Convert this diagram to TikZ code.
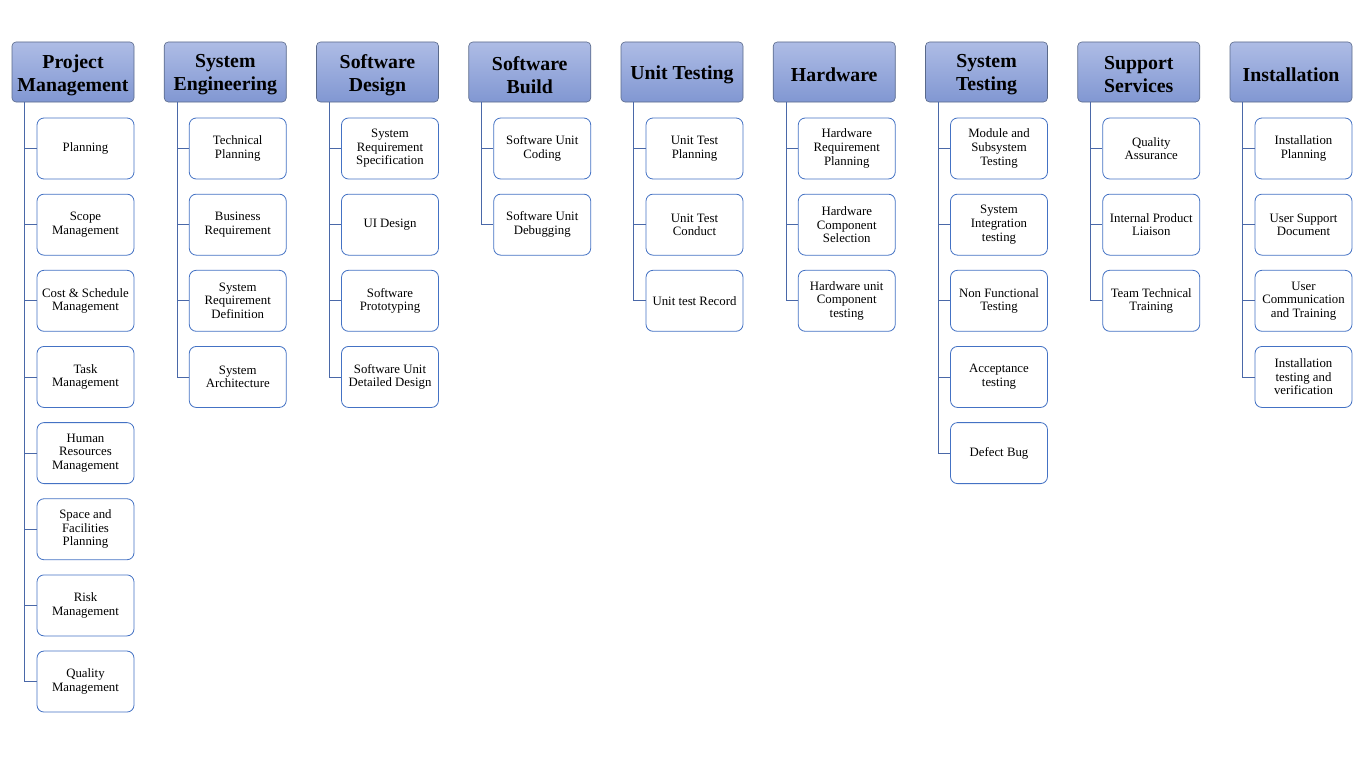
\documentclass[tikz,border=0pt]{standalone}
\usepackage{fontspec}
\setmainfont{Liberation Serif}
\definecolor{headtop}{HTML}{AEBCE5}
\definecolor{headbot}{HTML}{8197D2}
\definecolor{headline}{HTML}{59698A}
\definecolor{taskline}{HTML}{4472C4}
\definecolor{linkline}{HTML}{4A68A8}

\begin{document}
\begin{tikzpicture}[x=1pt, y=-1pt, semithick]
        \tikzstyle{headbox}=[draw=headline, rounded corners=4pt, top color=headtop, bottom color=headbot,
            minimum width=122pt, minimum height=60pt, inner sep=0pt]
        \tikzstyle{headtext}=[align=center, inner sep=0pt, yshift=-3pt,
            font=\fontsize{19.8}{23}\selectfont\bfseries]
        \tikzstyle{taskbox}=[draw=taskline, fill=white, rounded corners=7pt, line width=0.8pt,
            minimum width=97pt, minimum height=61pt, inner sep=0pt, align=center,
            font=\fontsize{12.8}{13.6}\selectfont]
        \tikzstyle{link}=[draw=linkline, line width=0.9pt]

        \useasboundingbox (0,0) rectangle (1366,760);

        \foreach \i/\htext/\tlist in {%
            1/{Project\\Management}/{Planning,{Scope\\Management},{Cost \& Schedule\\Management},{Task\\Management},{Human\\Resources\\Management},{Space and\\Facilities\\Planning},{Risk\\Management},{Quality\\Management}},%
            2/{System\\Engineering}/{{Technical\\Planning},{Business\\Requirement},{System\\Requirement\\Definition},{System\\Architecture}},%
            3/{Software\\Design}/{{System\\Requirement\\Specification},{UI Design},{Software\\Prototyping},{Software Unit\\Detailed Design}},%
            4/{Software\\Build}/{{Software Unit\\Coding},{Software Unit\\Debugging}},%
            5/{Unit Testing}/{{Unit Test\\Planning},{Unit Test\\Conduct},{Unit test Record}},%
            6/{Hardware}/{{Hardware\\Requirement\\Planning},{Hardware\\Component\\Selection},{Hardware unit\\Component\\testing}},%
            7/{System\\Testing}/{{Module and\\Subsystem\\Testing},{System\\Integration\\testing},{Non Functional\\Testing},{Acceptance\\testing},{Defect Bug}},%
            8/{Support\\Services}/{{Quality\\Assurance},{Internal Product\\Liaison},{Team Technical\\Training}},%
            9/{Installation}/{{Installation\\Planning},{User Support\\Document},{User\\Communication\\and Training},{Installation\\testing and\\verification}}%
        }{
            \node[headbox, label={[headtext]center:\htext}] (h\i) at ({73+152.25*(\i-1)},72) {};
            \foreach \task [count=\j] in \tlist {
                \node[taskbox] (t\i-\j) at ({85.5+152.25*(\i-1)},{148.5+76.15*(\j-1)}) {\task};
                \draw[link] (h\i.south west) ++(13,0) |- (t\i-\j.west);
            }
        }
    \end{tikzpicture}
\end{document}
